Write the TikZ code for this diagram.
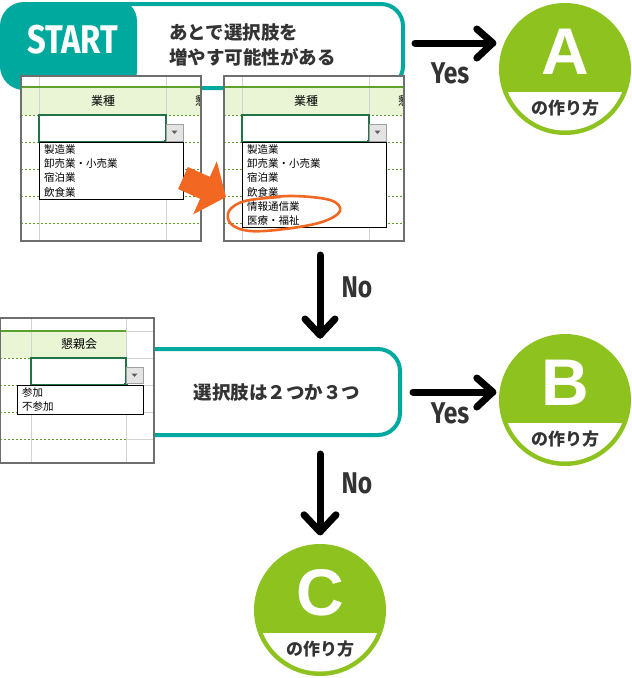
\documentclass[tikz,border=0pt]{standalone}
\usepackage{fontspec}
\usetikzlibrary{calc}
\newfontfamily\jp{Noto Sans CJK JP}
\newfontfamily\cond{Fira Sans}[FakeStretch=0.82]
\newfontfamily\lib{Liberation Sans}
\definecolor{tealc}{HTML}{00A99D}
\definecolor{leaf}{HTML}{8DC21F}
\definecolor{darkt}{HTML}{333333}
\definecolor{gridc}{HTML}{D2D2D2}
\definecolor{dotg}{HTML}{5E9E2E}
\definecolor{hdrg}{HTML}{5BA12E}
\definecolor{hdrf}{HTML}{EAF5D6}
\definecolor{ddg}{HTML}{217346}
\definecolor{btnb}{HTML}{A0A0A0}
\definecolor{btnf}{HTML}{E4E4E4}
\definecolor{btnt}{HTML}{606060}
\definecolor{framec}{HTML}{6E6E6E}
\definecolor{orng}{HTML}{F26822}
\tikzset{
 box/.style={draw=tealc, line width=4pt, rounded corners=22pt, fill=white, inner sep=0pt},
 hand/.style={line width=7pt, line cap=round, line join=round, draw=black},
 lbl/.style={font=\cond\bfseries\fontsize{30}{30}\selectfont, text=darkt, inner sep=0pt},
 res/.style={circle, fill=leaf, minimum size=132pt, inner sep=0pt},
 letter/.style={font=\lib\bfseries\fontsize{66}{66}\selectfont, text=white, inner sep=0pt},
 howto/.style={font=\jp\bfseries\fontsize{17}{17}\selectfont, text=darkt, inner sep=0pt},
 qtext/.style={font=\jp\bfseries\fontsize{18.5}{25}\selectfont, text=darkt, inner sep=0pt},
 gridl/.style={draw=gridc, line width=0.8pt},
 dotl/.style={draw=dotg, line width=0.9pt, dash pattern=on 2pt off 2pt},
 hdrline/.style={draw=hdrg, line width=1.8pt},
 dd/.style={draw=ddg, line width=1.6pt, fill=white},
 btn/.style={draw=btnb, fill=btnf, line width=0.8pt},
 lst/.style={draw=black, line width=0.9pt, fill=white},
 item/.style={font=\jp\fontsize{10.5}{12}\selectfont, anchor=west, inner sep=0pt},
 hdr/.style={font=\jp\fontsize{12}{12}\selectfont, inner sep=0pt},
 frame/.style={draw=framec, line width=1.2pt},
}
\newcommand\resnode[4]{%
 \node[res] (#1) at (#2,#3) {};
 \begin{scope}
  \clip (#1.center) circle (61.5);
  \fill[white] ($(#1.center)+(-70,23)$) rectangle ($(#1.center)+(70,70)$);
 \end{scope}
 \node[letter] (#1l) at ($(#1.center)+(0,-17)$) {#4};
 \node[howto] (#1h) at ($(#1.center)+(0,39)$) {の作り方};
}
\begin{document}
\begin{tikzpicture}[x=1pt,y=-1pt]
\useasboundingbox (0,0) rectangle (632,678);
% ---------- START box
\node[box, minimum width=401pt, minimum height=84pt,
  path picture={\fill[tealc] ([xshift=-5pt,yshift=5pt]path picture bounding box.north west) rectangle ([xshift=135pt,yshift=-5pt]path picture bounding box.south west);}] (start) at (202.5,46) {};
\node[font=\cond\bfseries\fontsize{40}{40}\selectfont, text=white, inner sep=0pt] (startt) at (72.5,40) {START};
\node[qtext, anchor=west] (q1a) at (169,32) {あとで選択肢を};
\node[qtext, anchor=west] (q1b) at (169,57) {増やす可能性がある};
% ---------- screenshot 1
\fill[white] (21,76) rectangle (201,241);
\fill[hdrf] (21,87) rectangle (201,115);
\draw[gridl] (39,76) -- (39,241) (166,76) -- (166,241);
\draw[hdrline] (21,87) -- (201,87);
\foreach \yy in {115,142,169,196,223} \draw[dotl] (21,\yy) -- (201,\yy);
\node[hdr] (s1h) at (103,101) {業種};
\begin{scope}\clip (21,76) rectangle (201,241);
 \node[hdr, anchor=west] (s1x) at (195,101) {懇};
\end{scope}
\draw[dd] (39,115) rectangle (166,142);
\fill[ddg] (164,140) rectangle (168,144);
\draw[btn] (166.5,124) rectangle (183,141);
\fill[btnt] (171.5,130.5) -- (177.5,130.5) -- (174.5,134) -- cycle;
\draw[lst] (39.5,142) rectangle (183,199);
\node[item] (s1i1) at (44,149.5) {製造業};
\node[item] (s1i2) at (44,163.7) {卸売業・小売業};
\node[item] (s1i3) at (44,177.9) {宿泊業};
\node[item] (s1i4) at (44,192.1) {飲食業};
\draw[frame] (21,76) rectangle (201,241);
% ---------- screenshot 2
\fill[white] (224,76) rectangle (404,241);
\fill[hdrf] (224,87) rectangle (404,115);
\draw[gridl] (242,76) -- (242,241) (369,76) -- (369,241);
\draw[hdrline] (224,87) -- (404,87);
\foreach \yy in {115,142,169,196,223} \draw[dotl] (224,\yy) -- (404,\yy);
\node[hdr] (s2h) at (306,101) {業種};
\begin{scope}\clip (224,76) rectangle (404,241);
 \node[hdr, anchor=west] (s2x) at (398,101) {懇};
\end{scope}
\draw[dd] (242,115) rectangle (369,142);
\fill[ddg] (367,140) rectangle (371,144);
\draw[btn] (369.5,124) rectangle (386,141);
\fill[btnt] (374.5,130.5) -- (380.5,130.5) -- (377.5,134) -- cycle;
\draw[lst] (242.5,142) rectangle (386,227);
\node[item] (s2i1) at (247,149.5) {製造業};
\node[item] (s2i2) at (247,163.7) {卸売業・小売業};
\node[item] (s2i3) at (247,177.9) {宿泊業};
\node[item] (s2i4) at (247,192.1) {飲食業};
\node[item] (s2i5) at (247,206.3) {情報通信業};
\node[item] (s2i6) at (247,220.5) {医療・福祉};
\draw[frame] (224,76) rectangle (404,241);
% orange highlight
\draw[orng, line width=2.6pt, line cap=round] plot[smooth, tension=0.6] coordinates {(250,200) (290,196) (330,200) (340,211) (322,222) (285,229) (250,231) (231,224) (229,211) (245,201) (280,197)};
\fill[orng] (187.9,167) -- (209.9,176.8) -- (216.8,161.3) -- (226,197.1) -- (193.2,214.3) -- (200.1,198.8) -- (178.1,189) -- cycle;
% ---------- second question box
\node[box, minimum width=300pt, minimum height=86pt] (q2) at (250,392) {};
\node[qtext] (q2t) at (277,392) {選択肢は２つか３つ};
% ---------- screenshot 3
\fill[white] (0,318) rectangle (154,463);
\fill[hdrf] (0,331) rectangle (126,358);
\draw[gridl] (31,318) -- (31,463) (126,318) -- (126,463);
\foreach \yy in {358,385,412,439} \draw[gridl] (126,\yy) -- (154,\yy);
\draw[hdrline] (0,331) -- (126,331);
\draw[gridl] (126,331) -- (154,331);
\foreach \yy in {358,385,412,439} \draw[dotl] (0,\yy) -- (126,\yy);
\node[hdr] (s3h) at (79,344) {懇親会};
\draw[dd] (31,358) rectangle (126,385);
\fill[ddg] (124,383) rectangle (128,387);
\draw[btn] (126.5,367) rectangle (143,383);
\fill[btnt] (131.5,373.5) -- (137.5,373.5) -- (134.5,377) -- cycle;
\draw[lst] (17,385) rectangle (143,414);
\node[item] (s3i1) at (22,392.5) {参加};
\node[item] (s3i2) at (22,407) {不参加};
\draw[frame] (0.6,318) rectangle (154,463);
% ---------- result circles
\resnode{A}{565}{69}{A}
\resnode{B}{565}{400}{B}
\resnode{C}{320}{610}{C}
% ---------- arrows
\coordinate (y1s) at ([xshift=10pt,yshift=3pt]start.east);
\coordinate (y1e) at ([xshift=-6pt]A.west |- y1s);
\draw[hand] (y1s) -- (y1e);
\draw[hand] ($(y1e)+(-16,-14)$) -- (y1e) -- ($(y1e)+(-16,15)$);
\node[lbl] (yes1) at (450,73) {Yes};

\coordinate (y2s) at ([xshift=11pt]q2.east);
\coordinate (y2e) at ([xshift=-6pt]B.west |- y2s);
\draw[hand] (y2s) -- (y2e);
\draw[hand] ($(y2e)+(-16,-14)$) -- (y2e) -- ($(y2e)+(-16,15)$);
\node[lbl] (yes2) at (450,413) {Yes};

\coordinate (n1s) at (320,255);
\coordinate (n1e) at ([yshift=12pt]q2.north -| n1s);
\draw[hand] (n1s) -- (n1e);
\draw[hand] ($(n1e)+(-15,-16)$) -- (n1e) -- ($(n1e)+(15,-16)$);
\node[lbl] (no1) at (357,287) {No};

\coordinate (n2s) at ([yshift=-17pt]q2.south -| C);
\coordinate (n2e) at ([yshift=12pt]C.north);
\draw[hand] (n2s) -- (n2e);
\draw[hand] ($(n2e)+(-16,-17)$) -- (n2e) -- ($(n2e)+(16,-17)$);
\node[lbl] (no2) at (357,483) {No};
\end{tikzpicture}
\end{document}
